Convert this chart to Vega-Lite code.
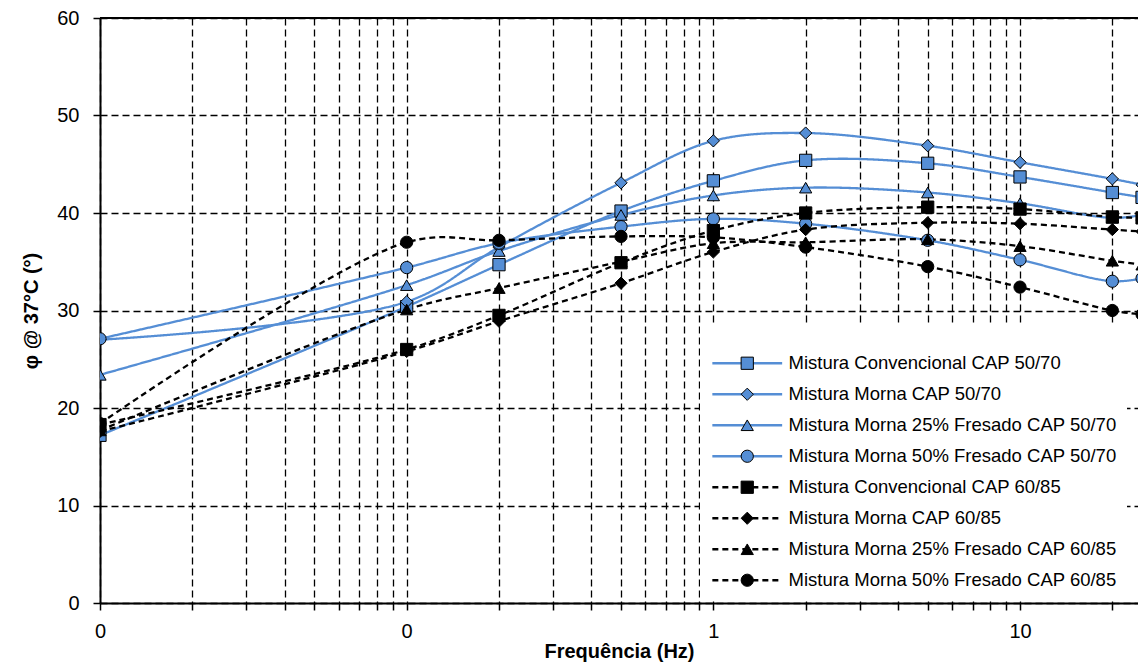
{
  "$schema": "https://vega.github.io/schema/vega-lite/v6.json",
  "width": 1038,
  "height": 585,
  "autosize": {"type": "none"},
  "padding": {"left": 100, "top": 18, "right": 0, "bottom": 65},
  "background": "white",
  "config": {"font": "Liberation Sans", "view": {"stroke": null}},
  "layer": [
    {
      "data": {"values": [{}]},
      "mark": {"type": "rule", "color": "black", "strokeWidth": 2},
      "encoding": {"y": {"datum": 60, "type": "quantitative", "scale": {"domain": [0, 60], "nice": false}}}
    },
    {
      "data": {"values": [
        {"s": "Mistura Convencional CAP 50/70", "f": 0.01, "phi": 17.2},
        {"s": "Mistura Convencional CAP 50/70", "f": 0.1, "phi": 30.4},
        {"s": "Mistura Convencional CAP 50/70", "f": 0.2, "phi": 34.7},
        {"s": "Mistura Convencional CAP 50/70", "f": 0.5, "phi": 40.2},
        {"s": "Mistura Convencional CAP 50/70", "f": 1, "phi": 43.3},
        {"s": "Mistura Convencional CAP 50/70", "f": 2, "phi": 45.4},
        {"s": "Mistura Convencional CAP 50/70", "f": 5, "phi": 45.1},
        {"s": "Mistura Convencional CAP 50/70", "f": 10, "phi": 43.7},
        {"s": "Mistura Convencional CAP 50/70", "f": 20, "phi": 42.1},
        {"s": "Mistura Convencional CAP 50/70", "f": 25, "phi": 41.6},
        {"s": "Mistura Morna CAP 50/70", "f": 0.01, "phi": 27.0},
        {"s": "Mistura Morna CAP 50/70", "f": 0.1, "phi": 30.9},
        {"s": "Mistura Morna CAP 50/70", "f": 0.2, "phi": 36.5},
        {"s": "Mistura Morna CAP 50/70", "f": 0.5, "phi": 43.1},
        {"s": "Mistura Morna CAP 50/70", "f": 1, "phi": 47.4},
        {"s": "Mistura Morna CAP 50/70", "f": 2, "phi": 48.2},
        {"s": "Mistura Morna CAP 50/70", "f": 5, "phi": 46.9},
        {"s": "Mistura Morna CAP 50/70", "f": 10, "phi": 45.2},
        {"s": "Mistura Morna CAP 50/70", "f": 20, "phi": 43.5},
        {"s": "Mistura Morna CAP 50/70", "f": 25, "phi": 42.9},
        {"s": "Mistura Morna 25% Fresado CAP 50/70", "f": 0.01, "phi": 23.4},
        {"s": "Mistura Morna 25% Fresado CAP 50/70", "f": 0.1, "phi": 32.6},
        {"s": "Mistura Morna 25% Fresado CAP 50/70", "f": 0.2, "phi": 36.1},
        {"s": "Mistura Morna 25% Fresado CAP 50/70", "f": 0.5, "phi": 39.8},
        {"s": "Mistura Morna 25% Fresado CAP 50/70", "f": 1, "phi": 41.8},
        {"s": "Mistura Morna 25% Fresado CAP 50/70", "f": 2, "phi": 42.6},
        {"s": "Mistura Morna 25% Fresado CAP 50/70", "f": 5, "phi": 42.1},
        {"s": "Mistura Morna 25% Fresado CAP 50/70", "f": 10, "phi": 41.0},
        {"s": "Mistura Morna 25% Fresado CAP 50/70", "f": 20, "phi": 39.5},
        {"s": "Mistura Morna 25% Fresado CAP 50/70", "f": 25, "phi": 39.8},
        {"s": "Mistura Morna 50% Fresado CAP 50/70", "f": 0.01, "phi": 27.1},
        {"s": "Mistura Morna 50% Fresado CAP 50/70", "f": 0.1, "phi": 34.4},
        {"s": "Mistura Morna 50% Fresado CAP 50/70", "f": 0.2, "phi": 36.9},
        {"s": "Mistura Morna 50% Fresado CAP 50/70", "f": 0.5, "phi": 38.6},
        {"s": "Mistura Morna 50% Fresado CAP 50/70", "f": 1, "phi": 39.4},
        {"s": "Mistura Morna 50% Fresado CAP 50/70", "f": 2, "phi": 38.9},
        {"s": "Mistura Morna 50% Fresado CAP 50/70", "f": 5, "phi": 37.2},
        {"s": "Mistura Morna 50% Fresado CAP 50/70", "f": 10, "phi": 35.2},
        {"s": "Mistura Morna 50% Fresado CAP 50/70", "f": 20, "phi": 33.0},
        {"s": "Mistura Morna 50% Fresado CAP 50/70", "f": 25, "phi": 33.3},
        {"s": "Mistura Convencional CAP 60/85", "f": 0.01, "phi": 18.3},
        {"s": "Mistura Convencional CAP 60/85", "f": 0.1, "phi": 26.0},
        {"s": "Mistura Convencional CAP 60/85", "f": 0.2, "phi": 29.5},
        {"s": "Mistura Convencional CAP 60/85", "f": 0.5, "phi": 34.9},
        {"s": "Mistura Convencional CAP 60/85", "f": 1, "phi": 38.2},
        {"s": "Mistura Convencional CAP 60/85", "f": 2, "phi": 40.0},
        {"s": "Mistura Convencional CAP 60/85", "f": 5, "phi": 40.6},
        {"s": "Mistura Convencional CAP 60/85", "f": 10, "phi": 40.4},
        {"s": "Mistura Convencional CAP 60/85", "f": 20, "phi": 39.6},
        {"s": "Mistura Convencional CAP 60/85", "f": 25, "phi": 39.5},
        {"s": "Mistura Morna CAP 60/85", "f": 0.01, "phi": 17.6},
        {"s": "Mistura Morna CAP 60/85", "f": 0.1, "phi": 25.8},
        {"s": "Mistura Morna CAP 60/85", "f": 0.2, "phi": 28.9},
        {"s": "Mistura Morna CAP 60/85", "f": 0.5, "phi": 32.8},
        {"s": "Mistura Morna CAP 60/85", "f": 1, "phi": 36.0},
        {"s": "Mistura Morna CAP 60/85", "f": 2, "phi": 38.3},
        {"s": "Mistura Morna CAP 60/85", "f": 5, "phi": 39.0},
        {"s": "Mistura Morna CAP 60/85", "f": 10, "phi": 38.9},
        {"s": "Mistura Morna CAP 60/85", "f": 20, "phi": 38.3},
        {"s": "Mistura Morna CAP 60/85", "f": 25, "phi": 38.1},
        {"s": "Mistura Morna 25% Fresado CAP 60/85", "f": 0.01, "phi": 17.7},
        {"s": "Mistura Morna 25% Fresado CAP 60/85", "f": 0.1, "phi": 30.1},
        {"s": "Mistura Morna 25% Fresado CAP 60/85", "f": 0.2, "phi": 32.3},
        {"s": "Mistura Morna 25% Fresado CAP 60/85", "f": 0.5, "phi": 35.0},
        {"s": "Mistura Morna 25% Fresado CAP 60/85", "f": 1, "phi": 36.9},
        {"s": "Mistura Morna 25% Fresado CAP 60/85", "f": 2, "phi": 37.0},
        {"s": "Mistura Morna 25% Fresado CAP 60/85", "f": 5, "phi": 37.3},
        {"s": "Mistura Morna 25% Fresado CAP 60/85", "f": 10, "phi": 36.6},
        {"s": "Mistura Morna 25% Fresado CAP 60/85", "f": 20, "phi": 35.1},
        {"s": "Mistura Morna 25% Fresado CAP 60/85", "f": 25, "phi": 34.7},
        {"s": "Mistura Morna 50% Fresado CAP 60/85", "f": 0.01, "phi": 18.4},
        {"s": "Mistura Morna 50% Fresado CAP 60/85", "f": 0.1, "phi": 37.0},
        {"s": "Mistura Morna 50% Fresado CAP 60/85", "f": 0.2, "phi": 37.2},
        {"s": "Mistura Morna 50% Fresado CAP 60/85", "f": 0.5, "phi": 37.6},
        {"s": "Mistura Morna 50% Fresado CAP 60/85", "f": 1, "phi": 37.5},
        {"s": "Mistura Morna 50% Fresado CAP 60/85", "f": 2, "phi": 36.5},
        {"s": "Mistura Morna 50% Fresado CAP 60/85", "f": 5, "phi": 34.5},
        {"s": "Mistura Morna 50% Fresado CAP 60/85", "f": 10, "phi": 32.4},
        {"s": "Mistura Morna 50% Fresado CAP 60/85", "f": 20, "phi": 30.0},
        {"s": "Mistura Morna 50% Fresado CAP 60/85", "f": 25, "phi": 29.6}
      ]},
      "encoding": {
        "x": {
          "field": "f", "type": "quantitative",
          "scale": {"type": "log", "domain": [0.01, 24.25], "nice": false},
          "axis": {
            "title": "Frequência (Hz)",
            "values": [0.01, 0.02, 0.03, 0.04, 0.05, 0.06, 0.07, 0.08, 0.09, 0.1, 0.2, 0.3, 0.4, 0.5, 0.6, 0.7, 0.8, 0.9, 1, 2, 3, 4, 5, 6, 7, 8, 9, 10, 20],
            "labelExpr": "datum.value == 0.01 || datum.value == 0.1 ? '0' : datum.value == 1 ? '1' : datum.value == 10 ? '10' : ''",
            "labelOverlap": false, "labelFlush": false,
            "grid": true, "gridColor": "black", "gridDash": [7, 4], "gridWidth": 1.3,
            "domainColor": "black", "domainWidth": 2,
            "tickColor": "black", "tickWidth": 1.5, "tickSize": 7,
            "labelFontSize": 20, "labelColor": "black", "labelPadding": 11,
            "titleFontSize": 20, "titleFontWeight": "bold", "titleColor": "black", "titlePadding": 0
          }
        },
        "y": {
          "field": "phi", "type": "quantitative",
          "scale": {"domain": [0, 60], "nice": false},
          "axis": {
            "title": "φ @ 37°C (°)",
            "values": [0, 10, 20, 30, 40, 50, 60],
            "grid": true, "gridColor": "black", "gridDash": [7, 4], "gridWidth": 1.3,
            "domainColor": "black", "domainWidth": 2,
            "tickColor": "black", "tickWidth": 1.5, "tickSize": 7,
            "labelFontSize": 20, "labelColor": "black", "labelPadding": 14,
            "titleFontSize": 20, "titleFontWeight": "bold", "titleColor": "black", "titlePadding": 15
          }
        }
      },
      "layer": [
        {
          "mark": {"type": "line", "interpolate": "catmull-rom", "strokeWidth": 2.3, "clip": true},
          "encoding": {
            "color": {
              "field": "s", "type": "nominal",
              "scale": {
                "domain": ["Mistura Convencional CAP 50/70", "Mistura Morna CAP 50/70", "Mistura Morna 25% Fresado CAP 50/70", "Mistura Morna 50% Fresado CAP 50/70", "Mistura Convencional CAP 60/85", "Mistura Morna CAP 60/85", "Mistura Morna 25% Fresado CAP 60/85", "Mistura Morna 50% Fresado CAP 60/85"],
                "range": ["#558ED5", "#558ED5", "#558ED5", "#558ED5", "#000000", "#000000", "#000000", "#000000"]
              },
              "legend": {
                "orient": "none", "legendX": 600, "legendY": 308,
                "title": " ", "titleFontSize": 12, "titlePadding": 6,
                "padding": 10, "fillColor": "white", "strokeColor": null,
                "symbolType": "M-5.7,0H5.7", "symbolSize": 150, "symbolStrokeWidth": 2.3,
                "symbolOffset": 28, "labelOffset": 32,
                "labelFontSize": 18.5, "labelColor": "black", "labelLimit": 600,
                "rowPadding": 12
              }
            },
            "strokeDash": {
              "field": "s", "type": "nominal",
              "scale": {
                "domain": ["Mistura Convencional CAP 50/70", "Mistura Morna CAP 50/70", "Mistura Morna 25% Fresado CAP 50/70", "Mistura Morna 50% Fresado CAP 50/70", "Mistura Convencional CAP 60/85", "Mistura Morna CAP 60/85", "Mistura Morna 25% Fresado CAP 60/85", "Mistura Morna 50% Fresado CAP 60/85"],
                "range": [[1, 0], [1, 0], [1, 0], [1, 0], [6, 4], [6, 4], [6, 4], [6, 4]]
              }
            }
          }
        },
        {
          "mark": {"type": "point", "filled": true, "size": 150, "stroke": "black", "strokeWidth": 1, "opacity": 1, "clip": true},
          "encoding": {
            "fill": {
              "field": "s", "type": "nominal",
              "scale": {
                "domain": ["Mistura Convencional CAP 50/70", "Mistura Morna CAP 50/70", "Mistura Morna 25% Fresado CAP 50/70", "Mistura Morna 50% Fresado CAP 50/70", "Mistura Convencional CAP 60/85", "Mistura Morna CAP 60/85", "Mistura Morna 25% Fresado CAP 60/85", "Mistura Morna 50% Fresado CAP 60/85", "-"],
                "range": ["#558ED5", "#558ED5", "#558ED5", "#558ED5", "#000000", "#000000", "#000000", "#000000", "#ffffff"]
              },
              "legend": {
                "orient": "none", "legendX": 600, "legendY": 308,
                "values": ["Mistura Convencional CAP 50/70", "Mistura Morna CAP 50/70", "Mistura Morna 25% Fresado CAP 50/70", "Mistura Morna 50% Fresado CAP 50/70", "Mistura Convencional CAP 60/85", "Mistura Morna CAP 60/85", "Mistura Morna 25% Fresado CAP 60/85", "Mistura Morna 50% Fresado CAP 60/85"],
                "title": " ", "titleFontSize": 12, "titlePadding": 6,
                "padding": 10,
                "symbolSize": 150, "symbolStrokeWidth": 1, "symbolStrokeColor": "black",
                "symbolOffset": 28, "labelOffset": 32,
                "labelFontSize": 18.5, "labelColor": "black", "labelLimit": 600, "labelOpacity": 0,
                "rowPadding": 12
              }
            },
            "shape": {
              "field": "s", "type": "nominal",
              "scale": {
                "domain": ["Mistura Convencional CAP 50/70", "Mistura Morna CAP 50/70", "Mistura Morna 25% Fresado CAP 50/70", "Mistura Morna 50% Fresado CAP 50/70", "Mistura Convencional CAP 60/85", "Mistura Morna CAP 60/85", "Mistura Morna 25% Fresado CAP 60/85", "Mistura Morna 50% Fresado CAP 60/85", "-"],
                "range": ["square", "diamond", "triangle-up", "circle", "square", "diamond", "triangle-up", "circle", "cross"]
              }
            }
          }
        }
      ]
    }
  ]
}
